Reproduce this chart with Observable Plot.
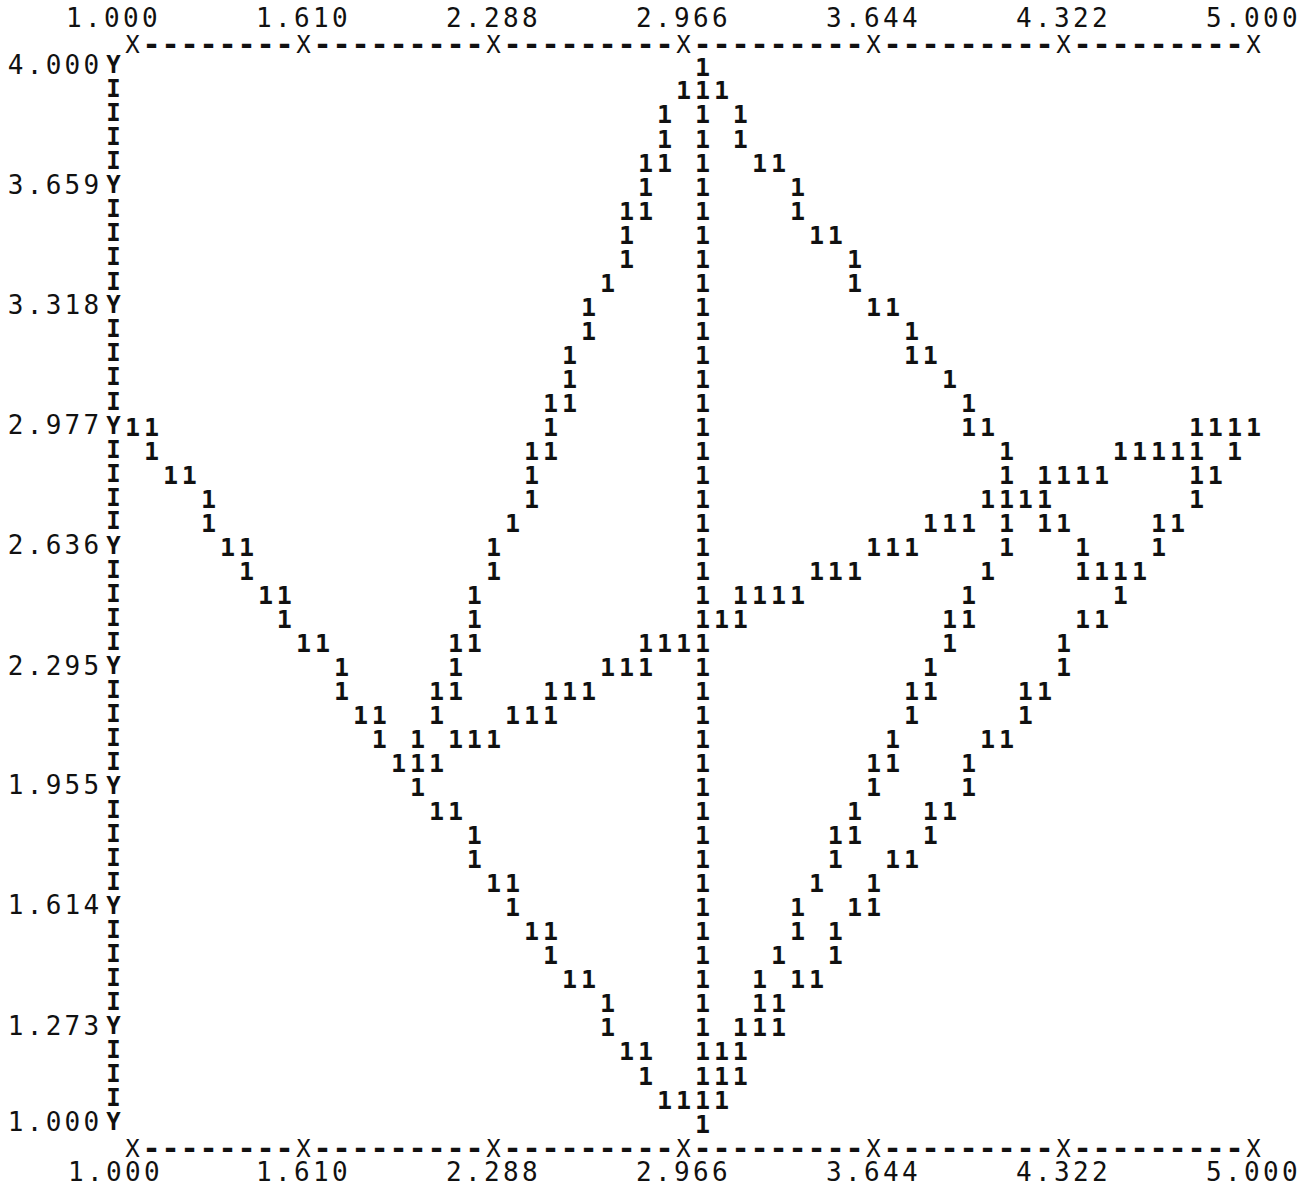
<!DOCTYPE html>
<html><head><meta charset="utf-8">
<script src="https://cdn.jsdelivr.net/npm/d3@7"></script>
<script src="https://cdn.jsdelivr.net/npm/@observablehq/plot@0.6"></script>
<style>
html,body{margin:0;padding:0;background:#fff;}
#chart svg{display:block;}
</style>
</head><body><div id="chart"></div>
<script>
// Axis ticks and labels (as printed)
const xTicks = [1.000, 1.610, 2.288, 2.966, 3.644, 4.322, 5.000];
const xTickLabels = ["1.000", "1.610", "2.288", "2.966", "3.644", "4.322", "5.000"];
const yTicks = [4.000, 3.659, 3.318, 2.977, 2.636, 2.295, 1.955, 1.614, 1.273, 1.000];
const yTickLabels = ["4.000", "3.659", "3.318", "2.977", "2.636", "2.295", "1.955", "1.614", "1.273", "1.000"];

// Printer rows (y values), top to bottom
const rowY = [4.000, 3.932, 3.864, 3.795, 3.727, 3.659, 3.591, 3.523, 3.455, 3.386,
  3.318, 3.250, 3.182, 3.114, 3.045, 2.977, 2.909, 2.841, 2.773, 2.705,
  2.636, 2.568, 2.500, 2.432, 2.364, 2.295, 2.227, 2.159, 2.091, 2.023,
  1.955, 1.886, 1.818, 1.750, 1.682, 1.614, 1.545, 1.477, 1.409, 1.341,
  1.273, 1.205, 1.136, 1.068, 1.000];

// x values of the plotted "1" symbols in each row
const rowX = [
  [3.034],
  [2.966, 3.034, 3.102],
  [2.898, 3.034, 3.169],
  [2.898, 3.034, 3.169],
  [2.831, 2.898, 3.034, 3.237, 3.305],
  [2.831, 3.034, 3.373],
  [2.763, 2.831, 3.034, 3.373],
  [2.763, 3.034, 3.441, 3.508],
  [2.763, 3.034, 3.576],
  [2.695, 3.034, 3.576],
  [2.627, 3.034, 3.644, 3.712],
  [2.627, 3.034, 3.780],
  [2.559, 3.034, 3.780, 3.847],
  [2.559, 3.034, 3.915],
  [2.492, 2.559, 3.034, 3.983],
  [1.000, 1.068, 2.492, 3.034, 3.983, 4.051, 4.797, 4.864, 4.932, 5.000],
  [1.068, 2.424, 2.492, 3.034, 4.119, 4.525, 4.593, 4.661, 4.729, 4.797, 4.932],
  [1.136, 1.203, 2.424, 3.034, 4.119, 4.254, 4.322, 4.390, 4.458, 4.797, 4.864],
  [1.271, 2.424, 3.034, 4.051, 4.119, 4.186, 4.254, 4.797],
  [1.271, 2.356, 3.034, 3.847, 3.915, 3.983, 4.119, 4.254, 4.322, 4.661, 4.729],
  [1.339, 1.407, 2.288, 3.034, 3.644, 3.712, 3.780, 4.119, 4.390, 4.661],
  [1.407, 2.288, 3.034, 3.441, 3.508, 3.576, 4.051, 4.390, 4.458, 4.525, 4.593],
  [1.475, 1.542, 2.220, 3.034, 3.169, 3.237, 3.305, 3.373, 3.983, 4.525],
  [1.542, 2.220, 3.034, 3.102, 3.169, 3.915, 3.983, 4.390, 4.458],
  [1.610, 1.678, 2.153, 2.220, 2.831, 2.898, 2.966, 3.034, 3.915, 4.322],
  [1.746, 2.153, 2.695, 2.763, 2.831, 3.034, 3.847, 4.322],
  [1.746, 2.085, 2.153, 2.492, 2.559, 2.627, 3.034, 3.780, 3.847, 4.186, 4.254],
  [1.814, 1.881, 2.085, 2.356, 2.424, 2.492, 3.034, 3.780, 4.186],
  [1.881, 2.017, 2.153, 2.220, 2.288, 3.034, 3.712, 4.051, 4.119],
  [1.949, 2.017, 2.085, 3.034, 3.644, 3.712, 3.983],
  [2.017, 3.034, 3.644, 3.983],
  [2.085, 2.153, 3.034, 3.576, 3.847, 3.915],
  [2.220, 3.034, 3.508, 3.576, 3.847],
  [2.220, 3.034, 3.508, 3.712, 3.780],
  [2.288, 2.356, 3.034, 3.441, 3.644],
  [2.356, 3.034, 3.373, 3.576, 3.644],
  [2.424, 2.492, 3.034, 3.373, 3.508],
  [2.492, 3.034, 3.305, 3.508],
  [2.559, 2.627, 3.034, 3.237, 3.373, 3.441],
  [2.695, 3.034, 3.237, 3.305],
  [2.695, 3.034, 3.169, 3.237, 3.305],
  [2.763, 2.831, 3.034, 3.102, 3.169],
  [2.831, 3.034, 3.102, 3.169],
  [2.898, 2.966, 3.034, 3.102],
  [3.034]
];

const points = rowX.flatMap((xs, r) => xs.map(x => ({x, y: rowY[r]})));

// printer-style axis decoration: one character per column
const nCols = 59;
const colX = d3.range(nCols + 1).map(c => 1 + c * 4 / nCols);
const dashX = colX.filter(v => !xTicks.some(t => Math.abs(t - v) < 0.01));
const isYTick = v => yTicks.some(t => Math.abs(t - v) < 0.001);

const FONT = "'DejaVu Sans Mono', monospace";
const yTop = () => 4, yBot = () => 1, xLeft = () => 1;

const chart = Plot.plot({
  width: 1309,
  height: 1190,
  marginLeft: 132,
  marginRight: 56,
  marginTop: 67,
  marginBottom: 66,
  x: {domain: [1, 5], axis: null},
  y: {domain: [1, 4], axis: null},
  style: {background: "#fff", fontFamily: FONT, color: "#111"},
  marks: [
    // top axis line
    Plot.text(xTicks, {x: d => d, y: yTop, text: () => "X", dy: -22, fontSize: 24, fill: "#111"}),
    Plot.text(dashX, {x: d => d, y: yTop, text: () => "-", dy: -22, fontSize: 30, fontWeight: "bold", fill: "#111"}),
    // bottom axis line
    Plot.text(xTicks, {x: d => d, y: yBot, text: () => "X", dy: 25, fontSize: 24, fill: "#111"}),
    Plot.text(dashX, {x: d => d, y: yBot, text: () => "-", dy: 25, fontSize: 30, fontWeight: "bold", fill: "#111"}),
    // top tick labels
    Plot.text(xTicks.slice(0, 1), {x: d => d, y: yTop, text: (d, i) => xTickLabels[i], dy: -49, dx: -19, fontSize: 26, fill: "#111"}),
    Plot.text(xTicks.slice(1), {x: d => d, y: yTop, text: (d, i) => xTickLabels[i + 1], dy: -49, fontSize: 26, fill: "#111"}),
    // bottom tick labels
    Plot.text(xTicks.slice(0, 1), {x: d => d, y: yBot, text: (d, i) => xTickLabels[i], dy: 48, dx: -17, fontSize: 26, fill: "#111"}),
    Plot.text(xTicks.slice(1), {x: d => d, y: yBot, text: (d, i) => xTickLabels[i + 1], dy: 48, fontSize: 26, fill: "#111"}),
    // left axis: Y at labelled rows, I elsewhere
    Plot.text(rowY, {x: xLeft, y: d => d, text: d => isYTick(d) ? "Y" : "I", dx: -19, dy: -2, fontSize: 24, fontWeight: "bold", fill: "#111"}),
    Plot.text(yTicks, {x: xLeft, y: d => d, text: (d, i) => yTickLabels[i], textAnchor: "end", dx: -30, dy: -2, fontSize: 26, fill: "#111"}),
    // data symbols
    Plot.text(points, {x: "x", y: "y", text: () => "1", fontSize: 25, fontWeight: "bold", fill: "#111"})
  ]
});

d3.select(chart).selectAll("text")
  .filter(function () { return this.textContent.length > 1; })
  .attr("letter-spacing", "3.3");

document.getElementById("chart").appendChild(chart);
</script>
</body></html>
